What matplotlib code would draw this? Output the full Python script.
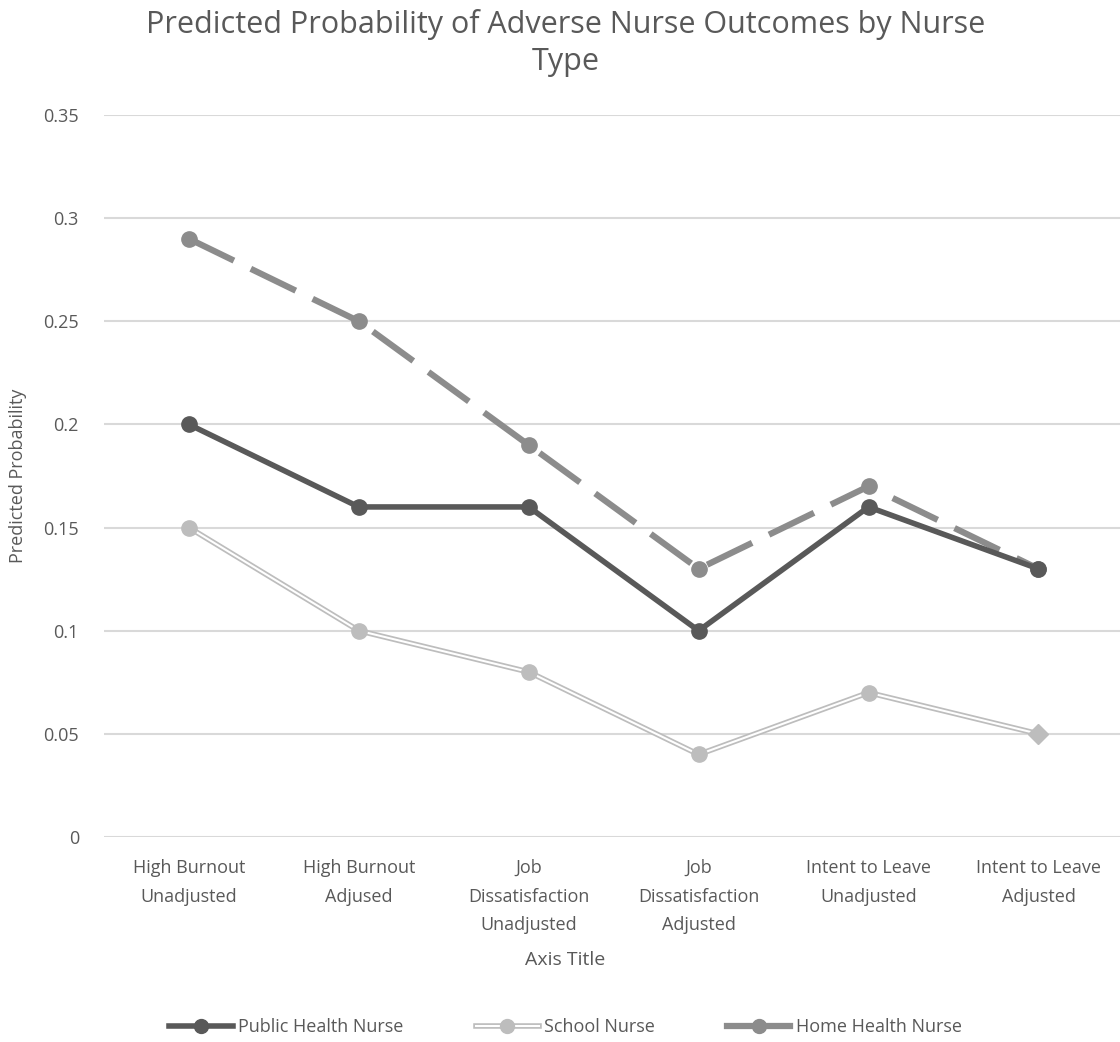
import matplotlib
matplotlib.use("Agg")
import matplotlib.pyplot as plt
from matplotlib.lines import Line2D
from matplotlib.legend_handler import HandlerTuple

categories = ["High Burnout\nUnadjusted", "High Burnout\nAdjused", "Job\nDissatisfaction\nUnadjusted",
              "Job\nDissatisfaction\nAdjusted", "Intent to Leave\nUnadjusted", "Intent to Leave\nAdjusted"]
public_health = [0.20, 0.16, 0.16, 0.10, 0.16, 0.13]
school = [0.15, 0.10, 0.08, 0.04, 0.07, 0.05]
home_health = [0.29, 0.25, 0.19, 0.13, 0.17, 0.13]
yticks = [0, 0.05, 0.1, 0.15, 0.2, 0.25, 0.3, 0.35]
ytick_labels = ["0", "0.05", "0.1", "0.15", "0.2", "0.25", "0.3", "0.35"]

plt.rcParams['font.family'] = ['Open Sans', 'DejaVu Sans']
fig = plt.figure(figsize=(11.2, 10.42), dpi=100)
ax = fig.add_axes([104/1120, 1-837/1042, 1016/1120, (837-115)/1042])
x = list(range(len(categories)))

c_pub = "#595959"
c_sch = "#BDBDBD"
c_home = "#8C8C8C"

ax.plot(x, home_health, color=c_home, lw=4.5, dashes=(8, 3), marker='o', ms=11, zorder=3)
ax.plot(x, public_health, color=c_pub, lw=4, marker='o', ms=11, zorder=4)
ax.plot(x, school, color=c_sch, lw=4, zorder=3, solid_capstyle='butt')
ax.plot(x, school, color='white', lw=1.5, zorder=3.1)
ax.plot(x[:-1], school[:-1], ls='none', color=c_sch, marker='o', ms=11, zorder=3.2)
ax.plot(x[-1:], school[-1:], ls='none', color=c_sch, marker='D', ms=10, zorder=3.2)

ax.set_xlim(-0.5, 5.48)
ax.set_ylim(0, 0.35)
ax.set_yticks(yticks)
ax.set_yticklabels(ytick_labels)
ax.set_xticks(x)
ax.set_xticklabels(categories, linespacing=1.75)
ax.grid(axis='y', color='#D9D9D9', lw=1.5)
ax.set_axisbelow(True)
for s in ax.spines.values():
    s.set_visible(False)
ax.tick_params(axis='both', length=0, labelsize=13, colors='#595959')
ax.tick_params(axis='x', pad=16)
ax.tick_params(axis='y', pad=18)
for t in ax.get_yticklabels() + ax.get_xticklabels():
    t.set_color('#595959')

ax.set_ylabel("Predicted Probability", fontsize=13, color='#595959')
ax.yaxis.set_label_coords(-0.076, 0.5)
fig.text(0.505, 1-960/1042, "Axis Title", ha='center', va='center', fontsize=14, color='#595959')
fig.text(0.505, 1-43/1042, "Predicted Probability of Adverse Nurse Outcomes by Nurse\nType",
         ha='center', va='center', fontsize=22, color='#595959', linespacing=1.3)

h_pub = Line2D([], [], color=c_pub, lw=4, marker='o', ms=10)
h_sch = (Line2D([], [], color=c_sch, lw=4), Line2D([], [], color='white', lw=1.5),
         Line2D([], [], color=c_sch, ls='none', marker='o', ms=10))
h_home = Line2D([], [], color=c_home, lw=4.5, marker='o', ms=10)
leg = fig.legend([h_pub, h_sch, h_home], ["Public Health Nurse", "School Nurse", "Home Health Nurse"],
                 handler_map={tuple: HandlerTuple(ndivide=1, pad=0)},
                 loc='center', bbox_to_anchor=(0.505, 1-1027/1042), ncol=3, frameon=False,
                 fontsize=13, handlelength=3.5, columnspacing=4.0, handletextpad=0.3)
for t in leg.get_texts():
    t.set_color('#595959')

fig.savefig("out.png", dpi=100, facecolor='white')
